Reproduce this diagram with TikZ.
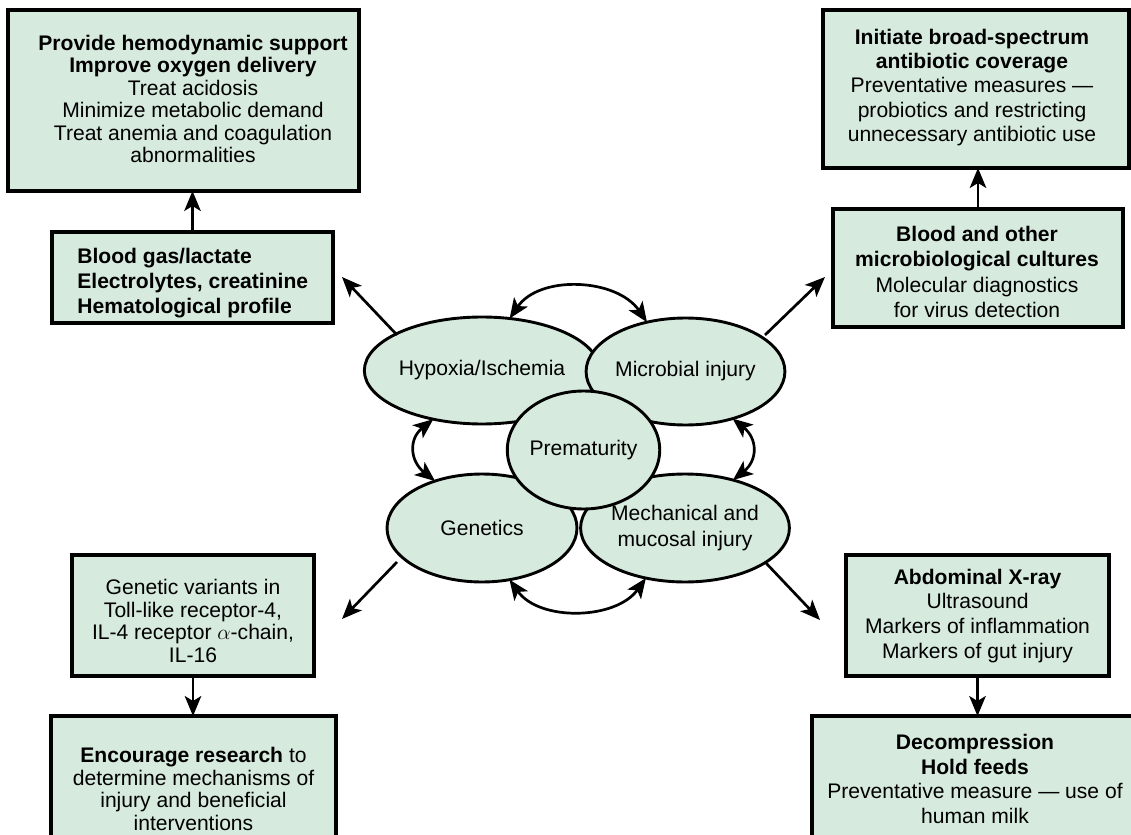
\documentclass[tikz,border=0pt]{standalone}
\usepackage{fontspec}
\setmainfont{Liberation Sans}
\usetikzlibrary{shapes.geometric,arrows.meta}
\definecolor{boxfill}{RGB}{214,234,221}
\begin{document}
\begin{tikzpicture}[x=0.02cm,y=-0.02cm,
  box/.style={draw=black,fill=boxfill,line width=0.064cm,rectangle,inner sep=0pt,outer sep=0pt},
  oval/.style={draw=black,fill=boxfill,line width=0.058cm,ellipse,inner sep=0pt,outer sep=0pt,font=\fontsize{12}{14.8}\selectfont},
  txt/.style={align=center,inner sep=0pt},
  arr/.style={line width=0.054cm,-{Stealth[length=0.4cm,width=0.33cm,inset=0.1cm]}},
  dbl/.style={line width=0.054cm,{Stealth[length=0.4cm,width=0.33cm,inset=0.1cm]}-{Stealth[length=0.4cm,width=0.33cm,inset=0.1cm]}},
]
\clip (0,0) rectangle (1131,834);
\fill[white] (0,0) rectangle (1131,834);

% boxes
\node[box,minimum width=7.02cm,minimum height=3.62cm] (tl) at (183.5,100.5) {};
\node[box,minimum width=5.62cm,minimum height=1.82cm] (bg) at (192.5,277.5) {};
\node[box,minimum width=6.12cm,minimum height=3.16cm] (tr) at (976,89) {};
\node[box,minimum width=5.80cm,minimum height=2.36cm] (bc) at (978,268) {};
\node[box,minimum width=4.84cm,minimum height=2.42cm] (gv) at (193,615.5) {};
\node[box,minimum width=5.70cm,minimum height=3.08cm] (enc) at (193.5,793) {};
\node[box,minimum width=5.26cm,minimum height=2.42cm] (ab) at (977.5,615.5) {};
\node[box,minimum width=6.66cm,minimum height=3.08cm] (dec) at (978.5,793) {};

% box texts
\node[txt,font=\fontsize{12}{12.8}\selectfont] (tlt) at (193,99) {\textbf{Provide hemodynamic support}\\\textbf{Improve oxygen delivery}\\Treat acidosis\\Minimize metabolic demand\\Treat anemia and coagulation\\abnormalities};
\node[txt,align=left,anchor=west,font=\fontsize{12}{14.05}\selectfont\bfseries] (bgt) at (77,283) {Blood gas/lactate\\Electrolytes, creatinine\\Hematological profile};
\node[txt,font=\fontsize{12}{13.9}\selectfont] (trt) at (972,87.5) {\textbf{Initiate broad-spectrum}\\\textbf{antibiotic coverage}\\Preventative measures —\\probiotics and restricting\\unnecessary antibiotic use};
\node[txt,font=\fontsize{12}{14.5}\selectfont] (bct) at (977,272) {\textbf{Blood and other}\\\textbf{microbiological cultures}\\Molecular diagnostics\\for virus detection};
\node[txt,font=\fontsize{12}{12.8}\selectfont] (gvt) at (193,621) {Genetic variants in\\Toll-like receptor-4,\\IL-4 receptor $\alpha$-chain,\\IL-16};
\node[txt,font=\fontsize{12}{12.8}\selectfont] (enct) at (193.5,789) {\textbf{Encourage research} to\\determine mechanisms of\\injury and beneficial\\interventions};
\node[txt,font=\fontsize{12}{14.2}\selectfont] (abt) at (977.5,616) {\textbf{Abdominal X-ray}\\Ultrasound\\Markers of inflammation\\Markers of gut injury};
\node[txt,font=\fontsize{12}{13.9}\selectfont] (dect) at (975,779) {\textbf{Decompression}\\\textbf{Hold feeds}\\Preventative measure — use of\\human milk};

% ellipses
\node[oval,minimum width=3.80cm,minimum height=2.14cm] (hyp) at (482,370.5) {Hypoxia/Ischemia};
\node[oval,minimum width=3.74cm,minimum height=2.14cm] (mic) at (685.5,371.5) {Microbial injury};
\node[oval,minimum width=3.80cm,minimum height=2.16cm] (gen) at (482,528) {Genetics};
\node[oval,minimum width=3.76cm,minimum height=2.16cm,align=center] (mech) at (685,528) {Mechanical and\\mucosal injury};
\node[oval,minimum width=2.86cm,minimum height=2.36cm] (pre) at (583.5,450) {Prematurity};

% vertical arrows between boxes
\draw[arr] (bg.north) -- (bg.north |- tl.south);
\draw[arr] (bc.north) -- (bc.north |- tr.south);
\draw[arr] (gv.south) -- (gv.south |- enc.north);
\draw[arr] (ab.south) -- (ab.south |- dec.north);

% diagonal arrows
\coordinate (s1) at (397,335); \coordinate (e1) at (342,277);
\coordinate (s2) at (765,335); \coordinate (e2) at (825,277);
\coordinate (s3) at (397,562); \coordinate (e3) at (342,619);
\coordinate (s4) at (765,562); \coordinate (e4) at (820,620);
\draw[arr] (s1) -- (e1);
\draw[arr] (s2) -- (e2);
\draw[arr] (s3) -- (e3);
\draw[arr] (s4) -- (e4);

% curved double arrows
\draw[dbl] (hyp.62) .. controls +(30,-44) and +(-30,-44) .. (mic.128);
\draw[dbl] (hyp.225) .. controls +(-25,20) and +(-25,-20) .. (gen.135);
\draw[dbl] (mic.315) .. controls +(25,20) and +(25,-20) .. (mech.45);
\draw[dbl] (gen.298) .. controls +(30,42) and +(-30,42) .. (mech.232);
\end{tikzpicture}
\end{document}
